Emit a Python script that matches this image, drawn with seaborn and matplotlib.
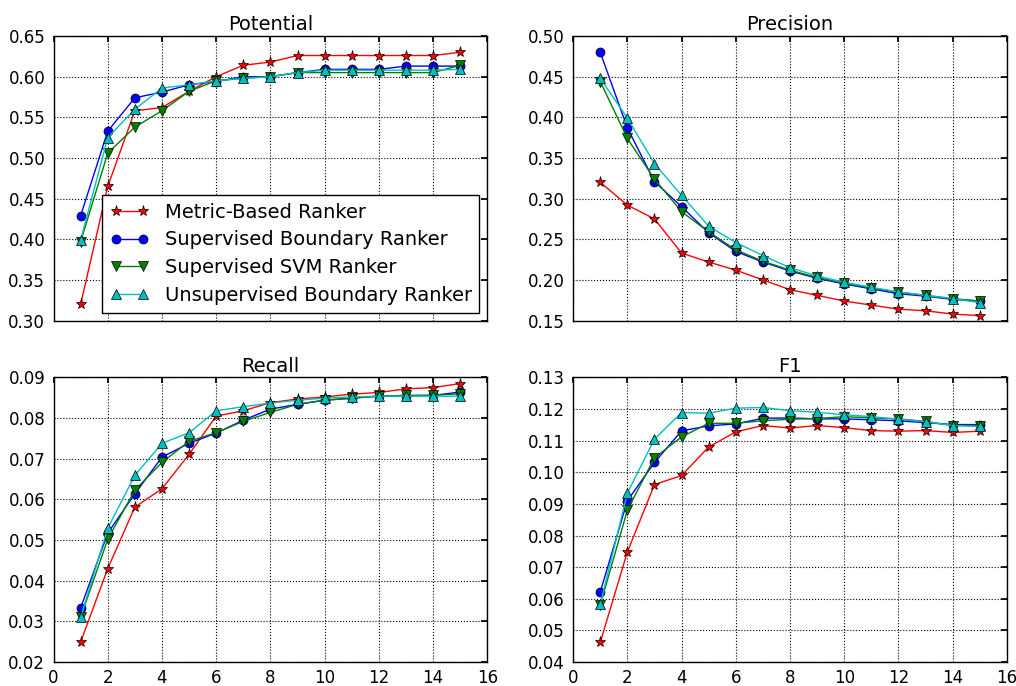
import numpy as np
import pandas as pd
import matplotlib
matplotlib.use("Agg")
import matplotlib.pyplot as plt
import seaborn as sns

k = list(range(1, 16))

series_names = ["Metric-Based Ranker", "Supervised Boundary Ranker",
                "Supervised SVM Ranker", "Unsupervised Boundary Ranker"]

potential_metric = [0.320, 0.465, 0.558, 0.562, 0.582, 0.600, 0.614, 0.618, 0.626, 0.626, 0.626, 0.626, 0.626, 0.626, 0.630]
potential_sup_boundary = [0.429, 0.533, 0.574, 0.581, 0.590, 0.594, 0.600, 0.600, 0.605, 0.609, 0.609, 0.609, 0.613, 0.613, 0.613]
potential_svm = [0.397, 0.506, 0.538, 0.558, 0.582, 0.595, 0.598, 0.600, 0.605, 0.605, 0.605, 0.605, 0.605, 0.605, 0.614]
potential_unsup = [0.399, 0.525, 0.560, 0.586, 0.590, 0.595, 0.598, 0.600, 0.605, 0.608, 0.608, 0.608, 0.608, 0.608, 0.609]

precision_metric = [0.320, 0.292, 0.275, 0.233, 0.222, 0.212, 0.200, 0.188, 0.181, 0.174, 0.169, 0.164, 0.162, 0.158, 0.156]
precision_sup_boundary = [0.480, 0.387, 0.321, 0.290, 0.258, 0.235, 0.222, 0.211, 0.202, 0.195, 0.189, 0.183, 0.180, 0.176, 0.174]
precision_svm = [0.444, 0.374, 0.324, 0.284, 0.259, 0.237, 0.223, 0.212, 0.203, 0.196, 0.190, 0.185, 0.181, 0.177, 0.174]
precision_unsup = [0.448, 0.399, 0.343, 0.304, 0.266, 0.246, 0.230, 0.215, 0.205, 0.197, 0.191, 0.185, 0.181, 0.177, 0.172]

recall_metric = [0.0249, 0.0430, 0.0581, 0.0626, 0.0711, 0.0805, 0.0818, 0.0838, 0.0847, 0.0852, 0.0859, 0.0863, 0.0872, 0.0875, 0.0885]
recall_sup_boundary = [0.0333, 0.0517, 0.0614, 0.0704, 0.0738, 0.0763, 0.0795, 0.0822, 0.0834, 0.0844, 0.0849, 0.0854, 0.0855, 0.0856, 0.0864]
recall_svm = [0.0310, 0.0502, 0.0623, 0.0691, 0.0743, 0.0764, 0.0792, 0.0814, 0.0834, 0.0844, 0.0849, 0.0854, 0.0856, 0.0856, 0.0860]
recall_unsup = [0.0310, 0.0529, 0.0659, 0.0738, 0.0764, 0.0818, 0.0828, 0.0837, 0.0844, 0.0849, 0.0852, 0.0854, 0.0854, 0.0854, 0.0854]

f1_metric = [0.0462, 0.0748, 0.0961, 0.0990, 0.1080, 0.1128, 0.1148, 0.1140, 0.1148, 0.1141, 0.1132, 0.1130, 0.1132, 0.1126, 0.1130]
f1_sup_boundary = [0.0621, 0.0910, 0.1031, 0.1131, 0.1147, 0.1153, 0.1171, 0.1172, 0.1169, 0.1169, 0.1166, 0.1163, 0.1157, 0.1151, 0.1151]
f1_svm = [0.0580, 0.0880, 0.1046, 0.1112, 0.1155, 0.1155, 0.1163, 0.1168, 0.1170, 0.1176, 0.1172, 0.1169, 0.1161, 0.1148, 0.1148]
f1_unsup = [0.0582, 0.0934, 0.1105, 0.1189, 0.1187, 0.1203, 0.1205, 0.1195, 0.1190, 0.1182, 0.1176, 0.1168, 0.1160, 0.1148, 0.1145]

panel_titles = ["Potential", "Precision", "Recall", "F1"]
panel_data = [
    [potential_metric, potential_sup_boundary, potential_svm, potential_unsup],
    [precision_metric, precision_sup_boundary, precision_svm, precision_unsup],
    [recall_metric, recall_sup_boundary, recall_svm, recall_unsup],
    [f1_metric, f1_sup_boundary, f1_svm, f1_unsup],
]
panel_ylims = [(0.30, 0.65), (0.15, 0.50), (0.02, 0.09), (0.04, 0.13)]
panel_yticks = [np.arange(0.30, 0.651, 0.05), np.arange(0.15, 0.501, 0.05),
                np.arange(0.02, 0.0901, 0.01), np.arange(0.04, 0.1301, 0.01)]

colors = ["#ff0000", "#0000ff", "#008000", "#00bfbf"]
markers = ["*", "o", "v", "^"]

sns.set_theme(style="white", color_codes=False)
plt.rcParams.update({
    "font.family": ["DejaVu Sans"],
    "font.size": 12,
    "text.color": "black",
    "axes.labelcolor": "black",
    "axes.titlecolor": "black",
    "axes.edgecolor": "black",
    "axes.linewidth": 1.0,
    "axes.facecolor": "white",
    "figure.facecolor": "white",
    "xtick.direction": "in",
    "ytick.direction": "in",
    "xtick.top": True,
    "ytick.right": True,
    "xtick.major.size": 4,
    "ytick.major.size": 4,
    "xtick.major.pad": 5,
    "ytick.major.pad": 6,
    "xtick.labelsize": 12,
    "ytick.labelsize": 12,
    "xtick.color": "black",
    "ytick.color": "black",
    "axes.titlesize": 14,
    "axes.titlepad": 4,
})

fig, axes = plt.subplots(2, 2, figsize=(10.16, 6.86), dpi=100, sharex=True)
fig.subplots_adjust(left=0.0527, right=0.991, top=0.9475, bottom=0.035,
                    hspace=0.20, wspace=0.198)

for idx, ax in enumerate(axes.flat):
    for s, (name, vals) in enumerate(zip(series_names, panel_data[idx])):
        df = pd.DataFrame({"k": k, "v": vals})
        sns.lineplot(data=df, x="k", y="v", ax=ax, color=colors[s],
                     marker=markers[s], markersize=8 if markers[s] == "*" else 6.5,
                     markeredgecolor="black", markeredgewidth=0.5,
                     linewidth=1.0, label=name, legend=False)
    ax.set_title(panel_titles[idx], color="black")
    ax.set_xlim(0, 16)
    ax.set_xticks(range(0, 17, 2))
    ax.set_ylim(*panel_ylims[idx])
    ax.set_yticks(panel_yticks[idx])
    ax.set_yticklabels(["%.2f" % t for t in panel_yticks[idx]])
    ax.set_xlabel("")
    ax.set_ylabel("")
    ax.grid(True, linestyle=":", color="black", linewidth=0.8)
    for sp in ax.spines.values():
        sp.set_visible(True)
        sp.set_color("black")
    ax.tick_params(axis="both", which="both", direction="in", top=True, right=True,
                   length=4, color="black", labelsize=12, labelcolor="black")

leg = axes[0, 0].legend(loc="lower right", numpoints=2, fancybox=False,
                        frameon=True, fontsize=14, borderaxespad=0.4,
                        handlelength=2.0, labelspacing=0.45, labelcolor="black")
leg.get_frame().set_edgecolor("black")
leg.get_frame().set_linewidth(1.0)
leg.get_frame().set_alpha(1.0)

fig.savefig("out.png", dpi=100, facecolor="white")
